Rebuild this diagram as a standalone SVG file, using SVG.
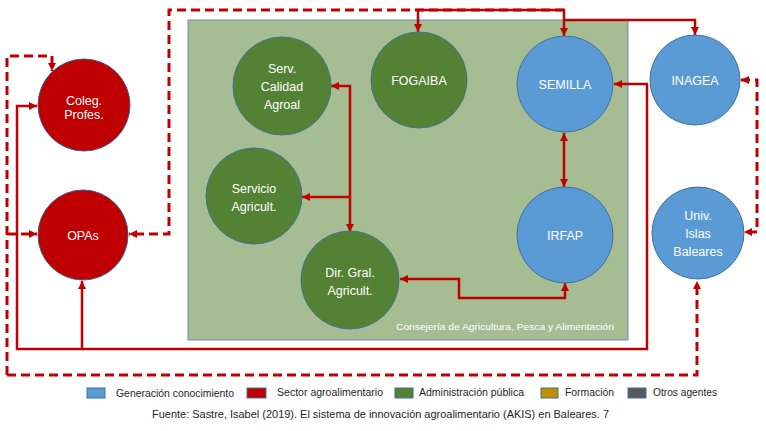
<svg xmlns="http://www.w3.org/2000/svg" width="766" height="431" viewBox="0 0 766 431">
<defs>
<marker id="ar" viewBox="0 0 10 10" refX="10" refY="5" markerWidth="8" markerHeight="8" markerUnits="userSpaceOnUse" orient="auto-start-reverse">
<path d="M0,0 L10,5 L0,10 z" fill="#c00000"/>
</marker>
<style>
.c{stroke-width:1}
.red{fill:#c00000;stroke:#3a5f8a}
.grn{fill:#548235;stroke:#41719c}
.blu{fill:#5b9bd5;stroke:#41719c}
.t{font-family:"Liberation Sans",Arial,sans-serif;fill:#ffffff;text-anchor:middle;font-size:12.5px}
.s{fill:none;stroke:#c00000;stroke-width:2.5}
.d{fill:none;stroke:#c00000;stroke-width:3;stroke-dasharray:9,5}
.lg{font-family:"Liberation Sans",Arial,sans-serif;fill:#262626;font-size:10px}
</style>
</defs>
<rect width="766" height="431" fill="#ffffff"/>
<g id="consejeria">
<rect x="188" y="20" width="440" height="320" fill="#a6bd94" stroke="#6d8fad" stroke-width="1"/>
<text x="505" y="330" font-family="'Liberation Sans',Arial,sans-serif" font-size="9.5" fill="#ffffff" text-anchor="middle" textLength="218" lengthAdjust="spacingAndGlyphs">Consejería de Agricultura, Pesca y Alimentación</text>
</g>
<g id="connectors">
<path class="d" d="M7,375 V56 H52 V71" marker-end="url(#ar)"/>
<path class="d" d="M7,375 H697 V281" marker-end="url(#ar)"/>
<path class="d" d="M7,234 H37" marker-end="url(#ar)"/>
<path class="d" d="M564,10 H169 V234 H129" marker-end="url(#ar)"/>
<path class="d" d="M741,80 H757 V232 H744" marker-start="url(#ar)" marker-end="url(#ar)"/>
<path class="s" d="M37,106 H17 V349 H647 V84 H614" marker-start="url(#ar)" marker-end="url(#ar)"/>
<path class="s" d="M82,349 V281" marker-end="url(#ar)"/>
<path class="s" d="M418,32 V10 H564 V36" marker-start="url(#ar)" marker-end="url(#ar)"/>
<path class="s" d="M564,20 H695 V35" marker-end="url(#ar)"/>
<path class="s" d="M331,86 H350 V232" marker-start="url(#ar)" marker-end="url(#ar)"/>
<path class="s" d="M350,197 H302" marker-end="url(#ar)"/>
<path class="s" d="M400,279 H459 V298 H565 V283" marker-start="url(#ar)" marker-end="url(#ar)"/>
<path class="s" d="M564,133 V187" marker-start="url(#ar)" marker-end="url(#ar)"/>
</g>
<g id="coleg">
<circle class="red c" cx="84" cy="105" r="46"/>
<text class="t" x="84" y="105" font-size="12">Coleg.</text>
<text class="t" x="84" y="119" font-size="12">Profes.</text>
</g>
<g id="opas">
<circle class="red c" cx="83" cy="235" r="45"/>
<text class="t" x="83" y="240">OPAs</text>
</g>
<g id="serv-calidad">
<circle class="grn c" cx="282" cy="86" r="49"/>
<text class="t" x="282" y="73" font-size="13">Serv.</text>
<text class="t" x="282" y="91" font-size="13">Calidad</text>
<text class="t" x="282" y="109" font-size="13">Agroal</text>
</g>
<g id="fogaiba">
<circle class="grn c" cx="419" cy="80" r="48"/>
<text class="t" x="419" y="85" font-size="12">FOGAIBA</text>
</g>
<g id="servicio-agricult">
<circle class="grn c" cx="254" cy="196" r="48"/>
<text class="t" x="254" y="193" font-size="13">Servicio</text>
<text class="t" x="254" y="211" font-size="13">Agricult.</text>
</g>
<g id="dir-gral">
<circle class="grn c" cx="350" cy="280" r="49"/>
<text class="t" x="350" y="277" font-size="13">Dir. Gral.</text>
<text class="t" x="350" y="295" font-size="13">Agricult.</text>
</g>
<g id="semilla">
<circle class="blu c" cx="565" cy="84" r="48"/>
<text class="t" x="565" y="89" font-size="12">SEMILLA</text>
</g>
<g id="irfap">
<circle class="blu c" cx="565" cy="235" r="48"/>
<text class="t" x="565" y="240" font-size="12.5">IRFAP</text>
</g>
<g id="inagea">
<circle class="blu c" cx="695" cy="80" r="45"/>
<text class="t" x="695" y="85" font-size="12">INAGEA</text>
</g>
<g id="univ">
<circle class="blu c" cx="698" cy="233" r="46"/>
<text class="t" x="698" y="220" font-size="13">Univ.</text>
<text class="t" x="698" y="238" font-size="13">Islas</text>
<text class="t" x="698" y="256" font-size="13">Baleares</text>
</g>
<g id="legend">
<rect x="87" y="388" width="18" height="10" fill="#5b9bd5" stroke="#41719c"/>
<text class="lg" x="116" y="397" textLength="118" lengthAdjust="spacingAndGlyphs">Generación conocimiento</text>
<rect x="247" y="388" width="19" height="10" fill="#c00000" stroke="#41719c"/>
<text class="lg" x="277" y="396" textLength="106" lengthAdjust="spacingAndGlyphs">Sector agroalimentario</text>
<rect x="395" y="388" width="18" height="10" fill="#548235" stroke="#41719c"/>
<text class="lg" x="419" y="396" textLength="105" lengthAdjust="spacingAndGlyphs">Administración pública</text>
<rect x="541" y="388" width="17" height="10" fill="#bf9000" stroke="#41719c"/>
<text class="lg" x="565" y="396" textLength="49" lengthAdjust="spacingAndGlyphs">Formación</text>
<rect x="628" y="388" width="18" height="10" fill="#595959" stroke="#41719c"/>
<text class="lg" x="653" y="396" textLength="64" lengthAdjust="spacingAndGlyphs">Otros agentes</text>
<text x="152" y="418" font-family="'Liberation Sans',Arial,sans-serif" font-size="11.5" fill="#262626" textLength="457" lengthAdjust="spacingAndGlyphs">Fuente: Sastre, Isabel (2019). El sistema de innovación agroalimentario (AKIS) en Baleares. 7</text>
</g>
</svg>
